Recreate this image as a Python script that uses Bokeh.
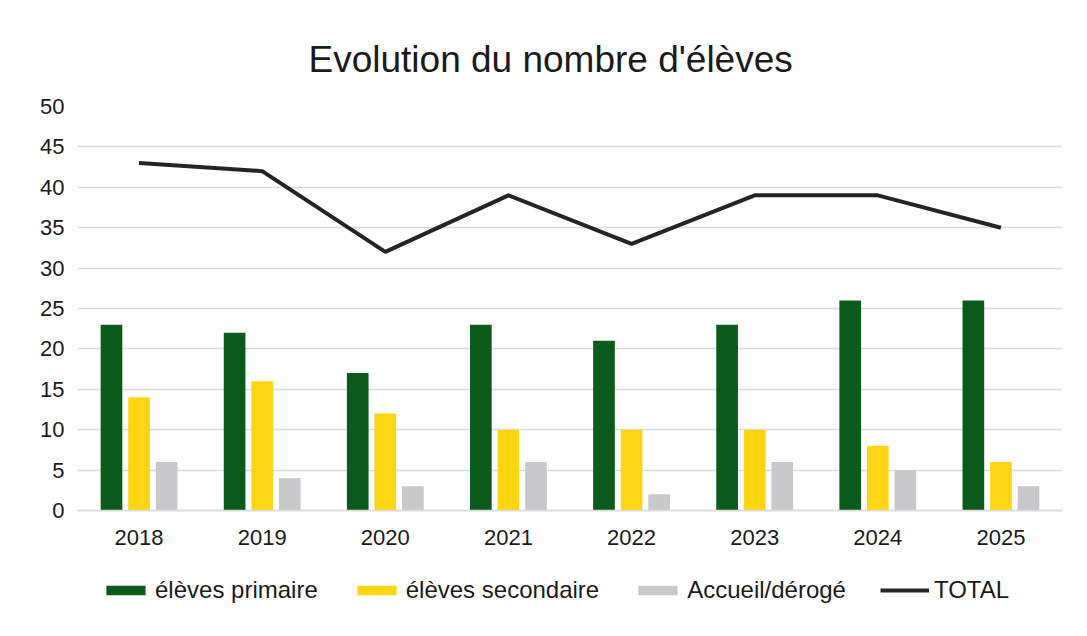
from bokeh.plotting import figure
from bokeh.models import ColumnDataSource, FactorRange, Range1d, FixedTicker, Legend, LegendItem
from bokeh.transform import dodge
from bokeh.embed import file_html
from bokeh.resources import INLINE

years = ["2018", "2019", "2020", "2021", "2022", "2023", "2024", "2025"]
primaire = [23, 22, 17, 23, 21, 23, 26, 26]
secondaire = [14, 16, 12, 10, 10, 10, 8, 6]
accueil = [6, 4, 3, 6, 2, 6, 5, 3]
total = [43, 42, 32, 39, 33, 39, 39, 35]
y_ticks = list(range(0, 51, 5))

FONT = "Liberation Sans"
GREEN = "#0a5a1c"
YELLOW = "#fed512"
GREY = "#c9c9cb"
BLACK = "#242424"
GRID = "#dcdcdc"

src = ColumnDataSource(dict(years=years, primaire=primaire, secondaire=secondaire,
                            accueil=accueil, total=total))

# frame runs down to the bottom so the legend (drawn inside it) is not clipped;
# the category axis is pinned at y = 0
p = figure(x_range=FactorRange(*years), y_range=Range1d(-13.37, 50),
           width=1071, height=620, output_backend="svg", toolbar_location=None,
           title="Evolution du nombre d'élèves",
           min_border_left=77, min_border_right=9, min_border_top=106, min_border_bottom=2)

p.title.text_font = FONT
p.title.text_font_size = "37px"
p.title.text_font_style = "normal"
p.title.text_color = "#1a1a1a"
p.title.align = "left"
p.title.offset = 231
p.title.standoff = 54

bw = 0.176
r1 = p.vbar(x=dodge("years", -0.224, range=p.x_range), top="primaire", bottom=0, width=bw,
            source=src, fill_color=GREEN, line_color=None)
r2 = p.vbar(x=dodge("years", 0.0, range=p.x_range), top="secondaire", bottom=0, width=bw,
            source=src, fill_color=YELLOW, line_color=None)
r3 = p.vbar(x=dodge("years", 0.224, range=p.x_range), top="accueil", bottom=0, width=bw,
            source=src, fill_color=GREY, line_color=None)
r4 = p.line(x="years", y="total", source=src, line_width=4, line_color=BLACK)

p.outline_line_color = None
p.xgrid.grid_line_color = None
p.ygrid.grid_line_color = GRID
p.ygrid.grid_line_width = 1.5

p.yaxis.ticker = FixedTicker(ticks=y_ticks)
p.yaxis.axis_line_color = None
p.yaxis.major_tick_line_color = None
p.yaxis.minor_tick_line_color = None
p.yaxis.major_tick_out = 0
p.yaxis.major_label_standoff = 13

p.xaxis.fixed_location = 0
p.xaxis.axis_line_color = GRID
p.xaxis.axis_line_width = 1.5
p.xaxis.major_tick_line_color = None
p.xaxis.minor_tick_line_color = None
p.xaxis.major_tick_out = 0
p.xaxis.major_label_standoff = 20

for ax in (p.xaxis, p.yaxis):
    ax.major_label_text_font = FONT
    ax.major_label_text_font_size = "22px"
    ax.major_label_text_color = "#1a1a1a"

legend = Legend(items=[
    LegendItem(label="élèves primaire", renderers=[r1]),
    LegendItem(label="élèves secondaire", renderers=[r2]),
    LegendItem(label="Accueil/dérogé", renderers=[r3]),
    LegendItem(label="TOTAL", renderers=[r4]),
], orientation="horizontal", location=(24, 14))
legend.glyph_width = 49
legend.glyph_height = 12
legend.label_standoff = 5
legend.spacing = 34
legend.padding = 0
legend.margin = 0
legend.border_line_color = None
legend.background_fill_alpha = 0
legend.label_text_font = FONT
legend.label_text_font_size = "24px"
legend.label_text_color = "#1a1a1a"
p.add_layout(legend)

open("out.html", "w").write(file_html(p, INLINE))
